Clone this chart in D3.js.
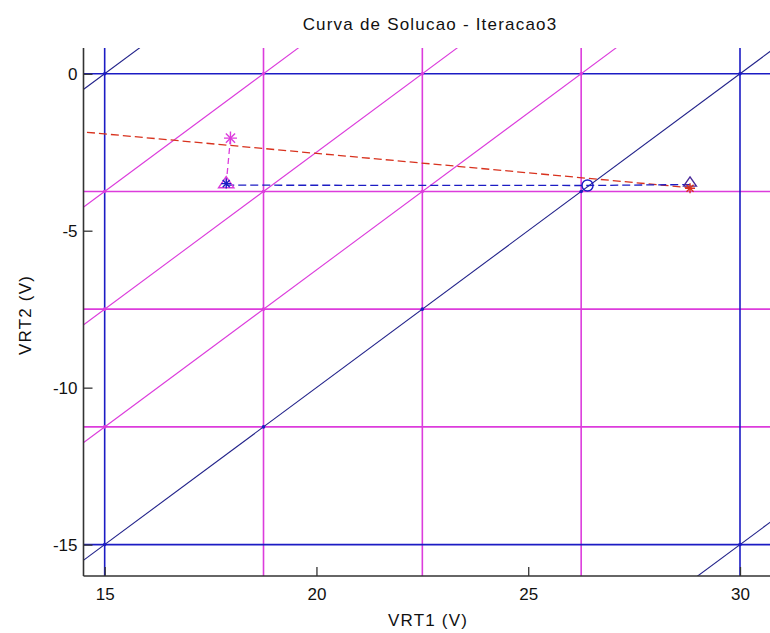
<!DOCTYPE html>
<html>
<head>
<meta charset="utf-8">
<script src="https://cdn.jsdelivr.net/npm/d3@7"></script>
<style>
  html, body { margin: 0; padding: 0; background: #fff; }
  svg { display: block; }
  text { font-family: "Liberation Sans", Arial, sans-serif; fill: #111; }
</style>
</head>
<body>
<div id="chart"></div>
<script>
// Piecewise-linear solution curve, iteration 3 (VRT1 vs VRT2, volts)
const title = "Curva de Solucao - Iteracao3";
const xLabel = "VRT1 (V)";
const yLabel = "VRT2 (V)";

const xTicks = [15, 20, 25, 30];
const yTicks = [0, -5, -10, -15];

// region boundaries: constant VRT1, constant VRT2
const outerV1 = [15, 30];
const innerV1 = [18.75, 22.5, 26.25];
const outerV2 = [0, -15];
const innerV2 = [-3.75, -7.5, -11.25];
// diagonal boundaries VRT2 = VRT1 - c
const outerDiag = [15, 30, 45];
const innerDiag = [18.75, 22.5, 26.25];

// load line (red dashed)
const loadLine = [[14.3, -1.83], [28.82, -3.63]];
// iteration steps
const stepDown = [[17.97, -2.05], [17.87, -3.5]];
const stepAcross = [[17.87, -3.55], [26.4, -3.56], [28.82, -3.53]];

// markers
const starStart = [17.97, -2.05];
const triStart = [17.87, -3.5];
const starBlue = [17.87, -3.5];
const circleMid = [26.4, -3.56];
const triEnd = [28.82, -3.47];
const starEnd = [28.82, -3.65];

const W = 770, H = 633;
const m = { left: 83.5, top: 48, bottom: 576, right: 776 };
const xDomain = [14.5, 30.85];
const yDomain = [-16, 0.82];

const BLUE = "#1c1cc4";
const BLUE_D = "#22228a";
const MAG = "#dc3cdc";
const RED = "#d8321e";

const x = d3.scaleLinear().domain(xDomain).range([m.left, m.right]);
const y = d3.scaleLinear().domain(yDomain).range([m.bottom, m.top]);

const svg = d3.select("#chart").append("svg")
  .attr("width", W).attr("height", H);

svg.append("defs").append("clipPath").attr("id", "plotClip")
  .append("rect")
  .attr("x", m.left).attr("y", m.top)
  .attr("width", m.right - m.left).attr("height", m.bottom - m.top);

const plot = svg.append("g").attr("clip-path", "url(#plotClip)");

// vertical boundaries
function vLines(vals, color) {
  plot.selectAll(null).data(vals).join("line")
    .attr("x1", d => x(d)).attr("x2", d => x(d))
    .attr("y1", y(yDomain[0])).attr("y2", y(yDomain[1]))
    .attr("stroke", color).attr("stroke-width", 1.6);
}
function hLines(vals, color) {
  plot.selectAll(null).data(vals).join("line")
    .attr("x1", x(xDomain[0])).attr("x2", x(xDomain[1]))
    .attr("y1", d => y(d)).attr("y2", d => y(d))
    .attr("stroke", color).attr("stroke-width", 1.6);
}
function dLines(vals, color) {
  const x0 = xDomain[0] - 1, x1 = xDomain[1] + 1;
  plot.selectAll(null).data(vals).join("line")
    .attr("x1", x(x0)).attr("y1", c => y(x0 - c))
    .attr("x2", x(x1)).attr("y2", c => y(x1 - c))
    .attr("stroke", color).attr("stroke-width", 1.1);
}
hLines(innerV2, MAG);
vLines(innerV1, MAG);
hLines(outerV2, BLUE);
vLines(outerV1, BLUE);
dLines(innerDiag, MAG);
dLines(outerDiag, BLUE_D);

// vertices where diagonals meet the grid
const gridV1 = outerV1.concat(innerV1);
const gridV2 = outerV2.concat(innerV2);
const verts = [];
gridV1.forEach(a => gridV2.forEach(b => {
  const c = +(a - b).toFixed(4);
  if (outerDiag.includes(c)) verts.push([a, b, BLUE]);
  else if (innerDiag.includes(c)) verts.push([a, b, MAG]);
}));
plot.selectAll(null).data(verts).join("circle")
  .attr("cx", d => x(d[0])).attr("cy", d => y(d[1])).attr("r", 1.8)
  .attr("fill", d => d[2]);

const line = d3.line().x(d => x(d[0])).y(d => y(d[1]));

plot.append("path").datum(loadLine).attr("d", line)
  .attr("fill", "none").attr("stroke", RED).attr("stroke-width", 1.3)
  .attr("stroke-dasharray", "8,4");
plot.append("path").datum(stepDown).attr("d", line)
  .attr("fill", "none").attr("stroke", MAG).attr("stroke-width", 1.3)
  .attr("stroke-dasharray", "6,4");
plot.append("path").datum(stepAcross).attr("d", line)
  .attr("fill", "none").attr("stroke", BLUE).attr("stroke-width", 1.3)
  .attr("stroke-dasharray", "8,4");

// marker shapes
function asterisk(p, color, r) {
  const g = plot.append("g").attr("transform", `translate(${x(p[0])},${y(p[1])})`);
  const d = r * Math.SQRT1_2;
  const segs = [[-r, 0, r, 0], [0, -r, 0, r], [-d, -d, d, d], [-d, d, d, -d]];
  g.selectAll("line").data(segs).join("line")
    .attr("x1", s => s[0]).attr("y1", s => s[1])
    .attr("x2", s => s[2]).attr("y2", s => s[3])
    .attr("stroke", color).attr("stroke-width", 1.4);
}
function triangle(p, color, r) {
  plot.append("path")
    .attr("transform", `translate(${x(p[0])},${y(p[1])})`)
    .attr("d", `M0,${-r}L${r * 1.1},${r * 0.6}L${-r * 1.1},${r * 0.6}Z`)
    .attr("fill", "none").attr("stroke", color).attr("stroke-width", 1.4);
}

triangle(triStart, MAG, 7);
asterisk(starBlue, BLUE, 5);
asterisk(starStart, MAG, 6.5);
plot.append("circle")
  .attr("cx", x(circleMid[0])).attr("cy", y(circleMid[1])).attr("r", 5.5)
  .attr("fill", "none").attr("stroke", BLUE).attr("stroke-width", 1.4);
triangle(triEnd, "#4a2a9a", 5.8);
asterisk(starEnd, RED, 5);

// axes
const xAxis = d3.axisBottom(x).tickValues(xTicks).tickSize(-9).tickPadding(12).tickFormat(d3.format("d"));
const yAxis = d3.axisLeft(y).tickValues(yTicks).tickSize(-9).tickPadding(6).tickFormat(d => d3.format("d")(d).replace("−", "-"));

const gx = svg.append("g").attr("transform", `translate(0,${m.bottom})`).call(xAxis);
const gy = svg.append("g").attr("transform", `translate(${m.left},0)`).call(yAxis);
[gx, gy].forEach(g => {
  g.select(".domain").remove();
  g.selectAll(".tick line").attr("stroke", "#333").attr("stroke-width", 1.3);
  g.selectAll("text").attr("font-size", 17).style("font-family", "Liberation Sans, Arial, sans-serif").attr("fill", "#111");
});

svg.append("line")
  .attr("x1", m.left).attr("x2", W).attr("y1", m.bottom).attr("y2", m.bottom)
  .attr("stroke", "#333").attr("stroke-width", 1.6);
svg.append("line")
  .attr("x1", m.left).attr("x2", m.left).attr("y1", m.top).attr("y2", m.bottom)
  .attr("stroke", "#333").attr("stroke-width", 1.6);

svg.append("text").attr("x", 430).attr("y", 30)
  .attr("text-anchor", "middle").attr("font-size", 17).attr("letter-spacing", 1.2)
  .text(title);
svg.append("text").attr("x", 428).attr("y", 626)
  .attr("text-anchor", "middle").attr("font-size", 17).attr("letter-spacing", 1.2)
  .text(xLabel);
svg.append("text")
  .attr("transform", "translate(31,315) rotate(-90)")
  .attr("text-anchor", "middle").attr("font-size", 17).attr("letter-spacing", 1.2)
  .text(yLabel);
</script>
</body>
</html>
